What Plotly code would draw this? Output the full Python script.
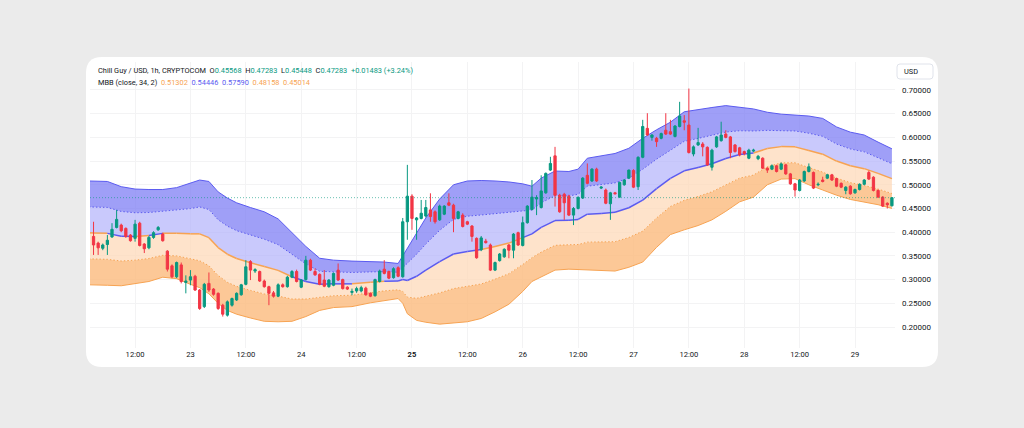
import numpy as np
import pandas as pd
import plotly.graph_objects as go

# ---------------- data ----------------
start = "2024-11-22 03:00"   # first hourly candle

opens = [0.391, 0.377, 0.366, 0.374, 0.390, 0.410, 0.415, 0.408, 0.394, 0.387,
         0.419, 0.375, 0.367, 0.389, 0.405, 0.396, 0.360, 0.329, 0.306, 0.331,
         0.294, 0.299, 0.307, 0.278, 0.243, 0.292, 0.280, 0.271, 0.246, 0.225,
         0.246, 0.257, 0.268, 0.290, 0.338, 0.318, 0.317, 0.297, 0.285, 0.272,
         0.265, 0.289, 0.285, 0.305, 0.317, 0.284, 0.300, 0.341, 0.317, 0.311,
         0.299, 0.285, 0.288, 0.320, 0.300, 0.284, 0.273, 0.276, 0.276, 0.282,
         0.271, 0.266, 0.296, 0.322, 0.317, 0.304, 0.325, 0.306, 0.422, 0.476,
         0.426, 0.429, 0.434, 0.447, 0.443, 0.426, 0.438, 0.462, 0.457, 0.429,
         0.436, 0.422, 0.413, 0.387, 0.363, 0.381, 0.373, 0.320, 0.340, 0.348,
         0.373, 0.362, 0.399, 0.372, 0.420, 0.448, 0.470, 0.452, 0.483, 0.531,
         0.561, 0.478, 0.480, 0.476, 0.436, 0.450, 0.472, 0.520, 0.508, 0.533,
         0.493, 0.489, 0.460, 0.483, 0.474, 0.500, 0.514, 0.530, 0.496, 0.558,
         0.619, 0.600, 0.598, 0.598, 0.615, 0.612, 0.602, 0.623, 0.635, 0.626,
         0.565, 0.584, 0.586, 0.579, 0.537, 0.580, 0.593, 0.607, 0.601, 0.584,
         0.578, 0.570, 0.556, 0.571, 0.555, 0.556, 0.535, 0.533, 0.540, 0.533,
         0.542, 0.523, 0.502, 0.488, 0.508, 0.528, 0.526, 0.500, 0.510, 0.514,
         0.521, 0.513, 0.503, 0.488, 0.497, 0.483, 0.490, 0.501, 0.526, 0.516,
         0.488, 0.474, 0.461, 0.45568]

highs = [0.422, 0.380, 0.376, 0.394, 0.419, 0.447, 0.418, 0.410, 0.396, 0.426,
         0.422, 0.377, 0.392, 0.402, 0.413, 0.399, 0.362, 0.332, 0.338, 0.336,
         0.309, 0.320, 0.310, 0.280, 0.293, 0.315, 0.282, 0.273, 0.249, 0.256,
         0.262, 0.273, 0.291, 0.341, 0.341, 0.324, 0.319, 0.300, 0.287, 0.276,
         0.292, 0.292, 0.308, 0.320, 0.321, 0.301, 0.350, 0.344, 0.324, 0.313,
         0.320, 0.301, 0.315, 0.334, 0.302, 0.286, 0.281, 0.285, 0.287, 0.285,
         0.273, 0.302, 0.321, 0.341, 0.319, 0.326, 0.328, 0.430, 0.542, 0.480,
         0.432, 0.468, 0.468, 0.482, 0.446, 0.458, 0.457, 0.482, 0.460, 0.445,
         0.440, 0.424, 0.415, 0.389, 0.392, 0.386, 0.376, 0.338, 0.356, 0.366,
         0.375, 0.398, 0.401, 0.433, 0.457, 0.510, 0.478, 0.520, 0.526, 0.559,
         0.580, 0.481, 0.483, 0.479, 0.453, 0.476, 0.516, 0.545, 0.535, 0.536,
         0.497, 0.492, 0.485, 0.485, 0.507, 0.512, 0.532, 0.533, 0.560, 0.637,
         0.651, 0.607, 0.601, 0.610, 0.651, 0.637, 0.626, 0.675, 0.647, 0.703,
         0.583, 0.620, 0.590, 0.581, 0.576, 0.603, 0.633, 0.615, 0.603, 0.586,
         0.580, 0.572, 0.576, 0.576, 0.563, 0.558, 0.537, 0.543, 0.542, 0.547,
         0.544, 0.525, 0.504, 0.512, 0.530, 0.545, 0.528, 0.505, 0.517, 0.523,
         0.523, 0.515, 0.505, 0.497, 0.499, 0.492, 0.503, 0.512, 0.530, 0.518,
         0.490, 0.476, 0.463, 0.47283]

lows = [0.352, 0.352, 0.362, 0.352, 0.388, 0.408, 0.400, 0.388, 0.380, 0.380,
        0.370, 0.356, 0.364, 0.386, 0.403, 0.380, 0.317, 0.303, 0.303, 0.292,
        0.271, 0.288, 0.276, 0.236, 0.240, 0.274, 0.266, 0.236, 0.222, 0.222,
        0.243, 0.255, 0.266, 0.288, 0.299, 0.314, 0.295, 0.283, 0.246, 0.262,
        0.263, 0.283, 0.283, 0.303, 0.294, 0.282, 0.298, 0.318, 0.308, 0.288,
        0.284, 0.283, 0.286, 0.297, 0.279, 0.278, 0.267, 0.272, 0.273, 0.266,
        0.263, 0.264, 0.294, 0.311, 0.301, 0.302, 0.305, 0.304, 0.384, 0.405,
        0.384, 0.427, 0.431, 0.422, 0.418, 0.424, 0.436, 0.455, 0.400, 0.427,
        0.410, 0.415, 0.380, 0.344, 0.360, 0.376, 0.318, 0.318, 0.338, 0.346,
        0.345, 0.345, 0.371, 0.370, 0.418, 0.446, 0.436, 0.450, 0.481, 0.529,
        0.454, 0.441, 0.426, 0.434, 0.415, 0.448, 0.470, 0.501, 0.506, 0.506,
        0.491, 0.459, 0.426, 0.480, 0.472, 0.498, 0.512, 0.493, 0.489, 0.556,
        0.603, 0.593, 0.580, 0.596, 0.605, 0.605, 0.600, 0.621, 0.615, 0.566,
        0.560, 0.582, 0.560, 0.540, 0.530, 0.578, 0.591, 0.598, 0.556, 0.568,
        0.560, 0.562, 0.554, 0.569, 0.552, 0.533, 0.525, 0.531, 0.526, 0.531,
        0.521, 0.500, 0.475, 0.486, 0.506, 0.526, 0.491, 0.497, 0.505, 0.512,
        0.508, 0.495, 0.493, 0.480, 0.479, 0.481, 0.488, 0.499, 0.510, 0.486,
        0.472, 0.453, 0.450, 0.45448]

closes = [0.373, 0.367, 0.373, 0.383, 0.406, 0.427, 0.403, 0.391, 0.382, 0.417,
          0.372, 0.365, 0.389, 0.399, 0.410, 0.382, 0.322, 0.306, 0.336, 0.296,
          0.297, 0.306, 0.278, 0.239, 0.290, 0.278, 0.269, 0.239, 0.227, 0.253,
          0.260, 0.271, 0.289, 0.327, 0.320, 0.321, 0.297, 0.285, 0.271, 0.265,
          0.289, 0.285, 0.305, 0.317, 0.296, 0.299, 0.341, 0.320, 0.310, 0.290,
          0.286, 0.299, 0.313, 0.299, 0.281, 0.280, 0.275, 0.281, 0.283, 0.268,
          0.265, 0.300, 0.318, 0.313, 0.303, 0.323, 0.307, 0.422, 0.476, 0.429,
          0.430, 0.440, 0.452, 0.433, 0.422, 0.455, 0.455, 0.457, 0.429, 0.443,
          0.412, 0.417, 0.391, 0.346, 0.388, 0.378, 0.320, 0.336, 0.354, 0.364,
          0.362, 0.396, 0.373, 0.420, 0.455, 0.474, 0.473, 0.487, 0.524, 0.545,
          0.478, 0.443, 0.462, 0.436, 0.450, 0.473, 0.514, 0.503, 0.533, 0.508,
          0.495, 0.461, 0.483, 0.481, 0.505, 0.510, 0.531, 0.495, 0.558, 0.623,
          0.605, 0.605, 0.591, 0.608, 0.607, 0.607, 0.624, 0.645, 0.632, 0.568,
          0.580, 0.589, 0.580, 0.542, 0.573, 0.601, 0.605, 0.600, 0.568, 0.570,
          0.563, 0.566, 0.573, 0.573, 0.560, 0.535, 0.531, 0.540, 0.528, 0.544,
          0.523, 0.502, 0.489, 0.510, 0.528, 0.538, 0.493, 0.501, 0.507, 0.521,
          0.510, 0.497, 0.495, 0.495, 0.481, 0.490, 0.501, 0.510, 0.512, 0.488,
          0.474, 0.455, 0.458, 0.47283]

# outer Bollinger band edges (2 sigma), sampled along the hours since `start`
band_hours = [-1, 0, 3, 6, 9, 12, 15, 18, 21, 23, 25, 27, 29, 31, 34, 37, 40, 43,
              46, 49, 52, 56, 60, 63, 66, 67, 68, 70, 72, 75, 78, 81, 84, 87, 90,
              93, 95, 97, 100, 103, 105, 107, 110, 113, 116, 119, 122, 125, 128,
              131, 134, 137, 140, 143, 146, 149, 152, 155, 158, 161, 164, 167,
              170, 173]
band_upper = [0.508, 0.508, 0.507, 0.496, 0.491, 0.490, 0.490, 0.494, 0.503, 0.510,
              0.507, 0.485, 0.472, 0.462, 0.452, 0.443, 0.428, 0.400, 0.370, 0.345,
              0.341, 0.339, 0.338, 0.337, 0.334, 0.350, 0.368, 0.400, 0.430, 0.470,
              0.500, 0.508, 0.509, 0.508, 0.506, 0.502, 0.497, 0.514, 0.529, 0.528,
              0.533, 0.556, 0.561, 0.566, 0.577, 0.598, 0.616, 0.632, 0.654, 0.659,
              0.663, 0.667, 0.664, 0.660, 0.653, 0.649, 0.647, 0.645, 0.640, 0.622,
              0.611, 0.605, 0.590, 0.5759]
band_lower = [0.289, 0.289, 0.288, 0.287, 0.291, 0.296, 0.305, 0.302, 0.290, 0.283,
              0.270, 0.250, 0.235, 0.227, 0.219, 0.212, 0.211, 0.212, 0.222, 0.235,
              0.241, 0.243, 0.251, 0.256, 0.260, 0.250, 0.228, 0.214, 0.210, 0.206,
              0.208, 0.211, 0.218, 0.232, 0.248, 0.275, 0.296, 0.306, 0.320, 0.322,
              0.321, 0.320, 0.318, 0.318, 0.326, 0.337, 0.368, 0.395, 0.405, 0.414,
              0.426, 0.444, 0.464, 0.474, 0.500, 0.512, 0.513, 0.500, 0.489, 0.478,
              0.469, 0.463, 0.458, 0.45014]

tick_times = ["2024-11-22 12:00", "2024-11-23 00:00", "2024-11-23 12:00",
              "2024-11-24 00:00", "2024-11-24 12:00", "2024-11-25 00:00",
              "2024-11-25 12:00", "2024-11-26 00:00", "2024-11-26 12:00",
              "2024-11-27 00:00", "2024-11-27 12:00", "2024-11-28 00:00",
              "2024-11-28 12:00", "2024-11-29 00:00"]
tick_text = ["12:00", "23", "12:00", "24", "12:00", "<b>25</b>", "12:00", "26",
             "12:00", "27", "12:00", "28", "12:00", "29"]
y_ticks = [0.20, 0.25, 0.30, 0.35, 0.40, 0.45, 0.50, 0.55, 0.60, 0.65, 0.70]

symbol = "Chill Guy / USD, 1h, CRYPTOCOM"
indicator = "MBB (close, 34, 2)"

# ---------------- styling ----------------
GREEN = "#089981"
RED = "#f23645"
BLUE = "#5b5bf0"
ORANGE = "#f7a352"
FILL_BLUE_DARK = "rgba(122,122,244,0.72)"
FILL_BLUE_LIGHT = "rgba(176,176,250,0.68)"
FILL_OR_LIGHT = "rgba(253,218,186,0.75)"
FILL_OR_DARK = "rgba(251,184,122,0.78)"
DOT = "1.5px,2px"
HDR_SIZE = 7.4

X_RANGE = ["2024-11-22 02:14", "2024-11-29 08:40"]
Y_RANGE = [0.1557, 0.759]

t0 = pd.Timestamp(start)
times = pd.date_range(t0, periods=len(closes), freq="h")
bt = [t0 + pd.Timedelta(hours=h) for h in band_hours]

up2 = np.array(band_upper)
lo2 = np.array(band_lower)
basis = (up2 + lo2) / 2
sig = (up2 - lo2) / 4
up1 = basis + sig
lo1 = basis - sig

fig = go.Figure()
fig.add_trace(go.Scatter(x=bt, y=lo2, mode="lines", line=dict(color=ORANGE, width=1),
                         hoverinfo="skip"))
fig.add_trace(go.Scatter(x=bt, y=lo1, mode="lines", fill="tonexty", fillcolor=FILL_OR_DARK,
                         line=dict(color=ORANGE, width=1, dash=DOT), hoverinfo="skip"))
fig.add_trace(go.Scatter(x=bt, y=basis, mode="lines", fill="tonexty", fillcolor=FILL_OR_LIGHT,
                         line=dict(width=0), hoverinfo="skip"))
fig.add_trace(go.Scatter(x=bt, y=up1, mode="lines", fill="tonexty", fillcolor=FILL_BLUE_LIGHT,
                         line=dict(color=BLUE, width=1, dash=DOT), hoverinfo="skip"))
fig.add_trace(go.Scatter(x=bt, y=up2, mode="lines", fill="tonexty", fillcolor=FILL_BLUE_DARK,
                         line=dict(color=BLUE, width=1), hoverinfo="skip"))

# basis line coloured by close above (blue) / below (orange) the basis
bx, by, ox, oy = [], [], [], []
for k in range(len(band_hours) - 1):
    h0, h1 = band_hours[k], band_hours[k + 1]
    idx = [i for i in range(max(h0, 0), h1) if i < len(closes)]
    if not idx:
        idx = [max(h0, 0)]
    cmean = np.mean([closes[i] for i in idx])
    bmean = (basis[k] + basis[k + 1]) / 2
    if cmean > bmean:
        bx += [bt[k], bt[k + 1], None]
        by += [basis[k], basis[k + 1], None]
    else:
        ox += [bt[k], bt[k + 1], None]
        oy += [basis[k], basis[k + 1], None]
fig.add_trace(go.Scatter(x=ox, y=oy, mode="lines", line=dict(color=ORANGE, width=1.5),
                         hoverinfo="skip"))
fig.add_trace(go.Scatter(x=bx, y=by, mode="lines", line=dict(color=BLUE, width=1.5),
                         hoverinfo="skip"))

# candles on an overlaid subplot so they are drawn above the band fills
fig.add_trace(go.Candlestick(
    x=times, open=opens, high=highs, low=lows, close=closes,
    increasing=dict(line=dict(color=GREEN, width=1), fillcolor=GREEN),
    decreasing=dict(line=dict(color=RED, width=1), fillcolor=RED),
    whiskerwidth=0, hoverinfo="skip", xaxis="x2", yaxis="y2"))

# current price line
fig.add_shape(type="line", xref="paper", x0=0, x1=1, yref="y", y0=closes[-1], y1=closes[-1],
              line=dict(color="rgba(8,153,129,0.6)", width=1, dash="1px,2px"))

# ---------------- layout / card ----------------
W, H = 1024, 428
L, R, T, B = 90, 895, 62, 348
def px(x):
    return (x - L) / (R - L)
def py(y):
    return (B - y) / (B - T)

def rounded(x0, y0, x1, y1, r):
    rx = r / (R - L)
    ry = r / (B - T)
    X0, X1 = px(x0), px(x1)
    Y0, Y1 = py(y1), py(y0)  # bottom, top
    return (f"M {X0+rx},{Y0} L {X1-rx},{Y0} Q {X1},{Y0} {X1},{Y0+ry} "
            f"L {X1},{Y1-ry} Q {X1},{Y1} {X1-rx},{Y1} L {X0+rx},{Y1} "
            f"Q {X0},{Y1} {X0},{Y1-ry} L {X0},{Y0+ry} Q {X0},{Y0} {X0+rx},{Y0} Z")

fig.add_shape(type="path", xref="paper", yref="paper", path=rounded(86, 57, 938, 367, 16),
              fillcolor="white", line=dict(width=0), layer="below")
fig.add_shape(type="path", xref="paper", yref="paper", path=rounded(897, 64, 933, 79, 3),
              fillcolor="white", line=dict(color="#e0e3eb", width=1), layer="above")

chg = closes[-1] - closes[-2]
pct = chg / closes[-2] * 100
g = lambda s: f"<span style='color:{GREEN}'>{s}</span>"
o = lambda s: f"<span style='color:{ORANGE}'>{s}</span>"
b = lambda s: f"<span style='color:{BLUE}'>{s}</span>"
line1 = (f"{symbol}&nbsp; O{g(f'{opens[-1]:.5f}')}&nbsp; H{g(f'{highs[-1]:.5f}')}&nbsp; "
         f"L{g(f'{lows[-1]:.5f}')}&nbsp; C{g(f'{closes[-1]:.5f}')}&nbsp; "
         f"{g(f'{chg:+.5f} ({pct:+.2f}%)')}")
line2 = (f"{indicator}&nbsp; {o(f'{basis[-1]:.5f}')}&nbsp; {b(f'{up1[-1]:.5f}')}&nbsp; "
         f"{b(f'{up2[-1]:.5f}')}&nbsp; {o(f'{lo1[-1]:.5f}')}&nbsp; {o(f'{lo2[-1]:.5f}')}")

fig.add_annotation(x=px(96), y=py(70.5), xref="paper", yref="paper", text=line1,
                   showarrow=False, xanchor="left", yanchor="middle",
                   font=dict(size=HDR_SIZE, color="#131722", family="Roboto"))
fig.add_annotation(x=px(96), y=py(82.5), xref="paper", yref="paper", text=line2,
                   showarrow=False, xanchor="left", yanchor="middle",
                   font=dict(size=HDR_SIZE, color="#131722", family="Roboto"))
fig.add_annotation(x=px(902), y=py(71.5), xref="paper", yref="paper", text="USD",
                   showarrow=False, xanchor="left", yanchor="middle",
                   font=dict(size=HDR_SIZE, color="#131722", family="Roboto"))

fig.update_layout(
    width=W, height=H, margin=dict(l=L, r=W - R, t=T, b=H - B),
    paper_bgcolor="#ebebeb", plot_bgcolor="white", showlegend=False,
    font=dict(family="Roboto", size=8, color="#131722"),
    xaxis=dict(type="date", range=X_RANGE, tickvals=tick_times, ticktext=tick_text,
               showgrid=True, gridcolor="#f3f3f4", gridwidth=1, zeroline=False,
               showline=False, ticks="", rangeslider=dict(visible=False),
               tickfont=dict(size=7.6, color="#131722")),
    yaxis=dict(side="right", range=Y_RANGE, tickvals=y_ticks,
               ticktext=[f"{v:.5f}" for v in y_ticks], showgrid=True,
               gridcolor="#f3f3f4", gridwidth=1, zeroline=False, showline=False,
               ticks="", ticklabelstandoff=6, tickfont=dict(size=8, color="#131722")),
    xaxis2=dict(type="date", range=X_RANGE, overlaying="x", visible=False,
                rangeslider=dict(visible=False)),
    yaxis2=dict(range=Y_RANGE, overlaying="y", visible=False),
)

fig.write_html("out.html", config={"displayModeBar": False},
               post_script="document.body.style.margin='0';document.body.style.overflow='hidden';")
